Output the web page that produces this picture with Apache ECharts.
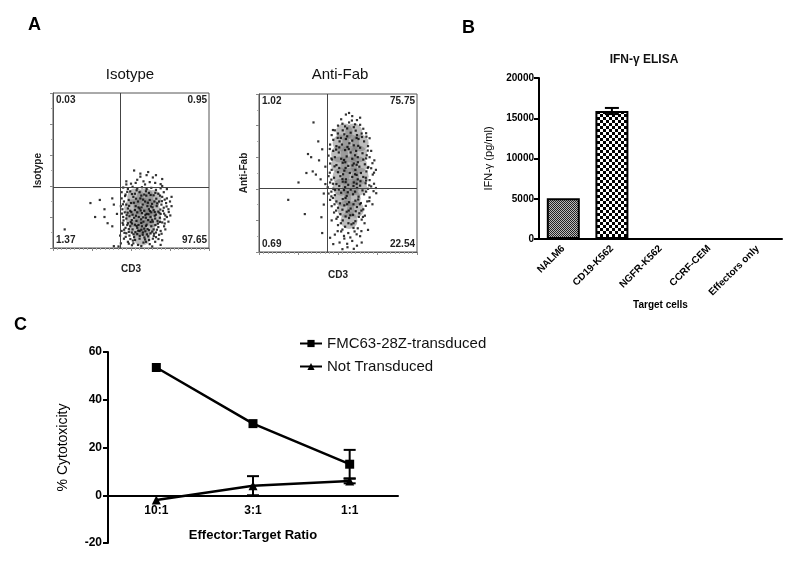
<!DOCTYPE html>
<html>
<head>
<meta charset="utf-8">
<script src="https://cdn.jsdelivr.net/npm/echarts@6/dist/echarts.min.js"></script>
<style>
  html, body { margin: 0; padding: 0; background: #fff; }
  #chart { width: 800px; height: 563px; }
</style>
</head>
<body>
<div id="chart"></div>
<script>
// ---- panel A: flow plots (channel units 0-1000) ----
const isoGate = [430, 395];
const fabGate = [430, 405];
const isoQuad = ['0.03', '0.95', '1.37', '97.65'];
const fabQuad = ['1.02', '75.75', '0.69', '22.54'];

const isoDots = [
  [520,500],[560,480],[600,470],[640,455],[660,470],[700,445],[540,440],[580,430],[620,425],[500,415],
  [655,420],[690,412],[470,410],[560,460],[610,490],
  [450,390],[480,380],[510,395],[540,385],[570,392],[600,380],[630,388],[660,375],[690,385],[710,360],
  [440,360],[465,345],[495,365],[525,350],[555,360],[585,345],[615,355],[645,340],[675,350],[700,330],
  [730,320],[750,300],[440,320],[455,300],[470,280],[485,310],[500,290],[515,330],[530,270],[545,300],
  [560,320],[575,280],[590,300],[605,270],[620,310],[635,285],[650,300],[665,270],[680,300],[695,280],
  [710,260],[725,290],[740,250],[760,270],[445,250],[460,230],[480,255],[495,240],[510,215],[525,245],
  [540,230],[555,255],[570,225],[585,240],[600,220],[615,250],[630,230],[645,245],[660,215],[675,235],
  [690,220],[705,240],[720,210],[435,270],[450,200],[470,190],[490,205],[505,180],[520,195],[535,175],
  [550,200],[565,185],[580,170],[595,195],[610,180],[625,200],[640,170],[655,190],[670,175],[685,195],
  [700,165],[715,185],[730,200],[450,150],[465,130],[480,160],[495,140],[510,120],[525,150],[540,130],
  [555,110],[570,140],[585,125],[600,150],[615,115],[630,140],[645,120],[660,100],[675,135],[690,110],
  [470,95],[490,80],[505,100],[520,70],[540,90],[555,60],[575,85],[590,55],[610,75],[625,95],
  [640,60],[660,70],[680,85],[700,50],[440,110],[455,60],[480,40],[515,30],[545,20],[580,35],
  [620,25],[655,40],[690,20],[430,80],[435,30],[462,335],[478,228],[532,318],[568,262],[598,338],
  [628,268],[662,318],[688,248],[452,178],[498,168],[548,148],[592,108],[636,182],[672,158],[712,140],
  [458,98],[512,48],[566,118],[602,88],[648,92],[486,122],[528,102],[578,198],[612,218],[652,232],
  [476,362],[506,348],[536,372],[566,338],[596,366],[626,342],[656,356],[686,338],[716,312],[448,282],
  [488,272],[518,292],[548,262],[578,312],[608,292],[638,262],[668,288],[698,302],[728,268],[442,222],
  [472,212],[502,232],[532,208],[562,242],[592,212],[622,238],[652,208],[682,228],[712,222],[742,232],
  [446,162],[476,148],[506,158],[536,142],[566,162],[596,142],[626,168],[656,148],[686,168],[716,158],
  [456,118],[486,104],[516,88],[546,112],[576,100],[606,122],[636,106],[666,118],[696,92],[466,72],
  [496,58],[526,52],[556,78],[586,68],[616,52],[646,78],[676,58],[506,18],[566,12],[636,10],
  [486,28],[596,40],[720,120],[740,170],[752,210],[760,330],[700,400],[730,380],[470,430],[530,420],
  [590,410]
];
const isoSparse = [
  [240,290],[300,310],[270,200],[330,200],[380,320],[390,280],[75,120],[380,140],[420,10],[390,12],
  [410,220],[330,250],[350,160]
];
const isoCore = [
  [530,330],[590,330],[640,320],[510,260],[570,270],[630,260],[520,190],[580,200],[640,190],
  [540,130],[600,130],[570,70]
];

const fabDots = [
  [550,870],[590,860],[520,840],[620,835],[570,820],[500,800],[640,805],[545,795],[600,790],[660,780],
  [480,770],[530,770],[460,740],[500,750],[540,745],[580,755],[620,740],[650,750],[680,730],[470,710],
  [510,700],[550,715],[590,705],[630,715],[665,700],[450,680],[490,670],[525,680],[560,665],[600,675],
  [640,660],[690,670],[710,640],[470,640],[505,630],[545,645],[580,630],[615,640],[655,625],[440,610],
  [480,600],[520,590],[555,605],[590,590],[625,600],[660,585],[700,600],[730,580],[450,560],[490,550],
  [530,565],[565,545],[600,560],[635,540],[670,555],[710,530],[740,520],[460,520],[500,505],[540,515],
  [575,500],[610,520],[645,500],[680,510],[720,490],[440,480],[475,470],[515,480],[550,460],[590,475],
  [625,460],[660,475],[700,455],[450,440],[490,430],[530,445],[565,425],[600,440],[640,420],[675,435],
  [710,415],[740,405],[435,410],[470,400],[505,395],[545,410],[580,395],[620,405],[655,390],[690,400],
  [725,385],[440,370],[480,360],[520,375],[555,355],[595,365],[630,350],[665,365],[700,345],[450,330],
  [490,320],[530,335],[570,315],[610,325],[645,310],[685,320],[460,290],[500,280],[540,295],[580,275],
  [620,285],[660,270],[475,250],[515,240],[555,255],[595,235],[635,245],[670,230],[490,210],[530,200],
  [570,215],[610,195],[650,205],[500,170],[545,160],[585,175],[625,150],[520,130],[565,120],[605,130],
  [480,110],[640,100],[540,85],[590,70],[510,60],[620,40],[560,30],[450,90],[600,20],[470,50],
  [462,585],[518,722],[612,768],[488,648],[572,688],[652,728],[508,532],[592,548],[682,612],[458,458],
  [532,492],[618,488],[692,538],[482,392],[562,378],[642,448],[512,308],[598,302],[676,292],[528,268],
  [612,258],[458,352],[548,225],[632,222],[566,182],[508,418],[598,418],[676,470],[546,568],[626,568],
  [468,772],[528,812],[588,832],[608,808],[558,782],[498,722],[558,732],[618,722],[678,752],[448,652],
  [508,662],[568,652],[628,672],[688,642],[458,592],[538,582],[608,612],[678,592],[718,562],[478,542],
  [548,532],[618,552],[688,532],[728,502],[448,502],[528,462],[608,492],[678,452],[728,432],[468,432],
  [548,442],[618,432],[698,422],[458,382],[538,392],[608,382],[678,382],[742,372],[468,342],[548,342],
  [628,332],[698,322],[478,302],[558,302],[638,302],[718,302],[488,262],[568,262],[648,262],[498,222],
  [578,232],[658,222],[518,182],[598,182],[668,182],[528,142],[598,152],[648,132],[538,102],[578,92],
  [618,112],[498,132],[558,52],[528,18],[650,60],[690,140],[460,200],[700,720],[640,850],[570,880]
];
const fabSparse = [
  [345,820],[375,700],[310,620],[400,650],[330,600],[380,580],[300,500],[340,510],[360,490],[390,460],
  [250,440],[420,430],[185,330],[290,240],[395,220],[400,120],[410,300],[420,540],[410,370]
];
const fabCore = [
  [540,760],[600,760],[520,690],[580,690],[640,690],[510,620],[570,620],[630,620],[510,550],[570,550],
  [630,550],[520,480],[580,480],[640,480],[520,410],[580,410],[630,410],[530,340],[590,340],[550,270],
  [610,270],[570,200]
];

// ---- panel B: IFN-gamma ELISA ----
const elisaCats = ['NALM6', 'CD19-K562', 'NGFR-K562', 'CCRF-CEM', 'Effectors only'];
const elisaVals = [5050, 15900, 60, 0, 0];
const elisaErr = [0, 380, 0, 0, 0];
const elisaTicks = [0, 5000, 10000, 15000, 20000];

// ---- panel C: cytotoxicity ----
const ratioCats = ['10:1', '3:1', '1:1'];
const fmcVals = [53.5, 30, 13];
const fmcErr = [0, 0, 6];
const notVals = [-2, 4, 6];
const notErr = [0, 4, 1];
const cytoTicks = [-20, 0, 20, 40, 60];

function checker(cell, dark, light) {
  const c = document.createElement('canvas');
  c.width = c.height = cell * 2;
  const ctx = c.getContext('2d');
  ctx.fillStyle = light;
  ctx.fillRect(0, 0, cell * 2, cell * 2);
  ctx.fillStyle = dark;
  ctx.fillRect(0, 0, cell, cell);
  ctx.fillRect(cell, cell, cell, cell);
  return c;
}
const finePat = { image: checker(1, '#222', '#bbb'), repeat: 'repeat' };
const coarsePat = { image: checker(3, '#000', '#fff'), repeat: 'repeat' };

const FONT = '"Liberation Sans", Arial, sans-serif';
const grids = [
  { left: 53, top: 93, width: 156, height: 155 },
  { left: 259, top: 94, width: 158, height: 158 },
  { left: 539, top: 78, width: 243, height: 161 },
  { left: 108, top: 352, width: 290, height: 191 }
];
const cytoZeroOffset = -grids[3].height * (0 - cytoTicks[0]) / (cytoTicks[cytoTicks.length - 1] - cytoTicks[0]);

function flowX(i, gap) {
  return {
    gridIndex: i, type: 'value', min: 0, max: 1000, interval: 250,
    name: 'CD3', nameLocation: 'middle', nameGap: gap,
    nameTextStyle: { fontFamily: FONT, fontWeight: 'bold', fontSize: 10, color: '#222' },
    axisLine: { lineStyle: { color: '#555' } },
    axisTick: { length: 3, lineStyle: { color: '#888' } },
    minorTick: { show: true, splitNumber: 9, length: 2, lineStyle: { color: '#aaa' } },
    axisLabel: { show: false }, splitLine: { show: false }
  };
}
function flowY(i, name) {
  return {
    gridIndex: i, type: 'value', min: 0, max: 1000, interval: 200,
    name: name, nameLocation: 'middle', nameGap: 10,
    nameTextStyle: { fontFamily: FONT, fontWeight: 'bold', fontSize: 10, color: '#222' },
    axisLine: { lineStyle: { color: '#555' } },
    axisTick: { length: 3, lineStyle: { color: '#888' } },
    minorTick: { show: true, splitNumber: 2, length: 2, lineStyle: { color: '#aaa' } },
    axisLabel: { show: false }, splitLine: { show: false }
  };
}
function flowSeries(i, dots, sparse, core, gate) {
  return [
    {
      type: 'scatter', xAxisIndex: i, yAxisIndex: i, data: core, symbolSize: 17,
      itemStyle: { color: '#7a7a7a', opacity: 0.5 }, silent: true, z: 1
    },
    {
      type: 'scatter', xAxisIndex: i, yAxisIndex: i, data: dots.concat(sparse), symbol: 'rect', symbolSize: 2.2,
      itemStyle: { color: '#000' }, silent: true, z: 2,
      markLine: {
        silent: true, symbol: 'none', label: { show: false },
        lineStyle: { color: '#444', width: 1, type: 'solid' },
        data: [{ xAxis: gate[0] }, { yAxis: gate[1] }]
      }
    }
  ];
}
function quadText(g, labels) {
  const st = { fontFamily: FONT, fontWeight: 'bold', fontSize: 10, fill: '#222' };
  const r = g.left + g.width, b = g.top + g.height;
  return [
    { type: 'text', left: g.left + 3, top: g.top + 2, style: Object.assign({ text: labels[0] }, st) },
    { type: 'text', right: 800 - r + 2, top: g.top + 2, style: Object.assign({ text: labels[1] }, st) },
    { type: 'text', left: g.left + 3, top: b - 13, style: Object.assign({ text: labels[2] }, st) },
    { type: 'text', right: 800 - r + 2, top: b - 13, style: Object.assign({ text: labels[3] }, st) }
  ];
}

function errorBars(xi, yi, vals, errs, capW) {
  return {
    type: 'custom', xAxisIndex: xi, yAxisIndex: yi, silent: true, z: 5,
    data: vals.map((v, k) => [k, v - errs[k], v + errs[k]]),
    renderItem: function (params, api) {
      const lo = api.coord([api.value(0), api.value(1)]);
      const hi = api.coord([api.value(0), api.value(2)]);
      if (hi[1] === lo[1]) return null;
      const st = { stroke: '#000', lineWidth: 2 };
      return {
        type: 'group', children: [
          { type: 'line', shape: { x1: hi[0], y1: hi[1], x2: lo[0], y2: lo[1] }, style: st },
          { type: 'line', shape: { x1: hi[0] - capW, y1: hi[1], x2: hi[0] + capW, y2: hi[1] }, style: st },
          { type: 'line', shape: { x1: lo[0] - capW, y1: lo[1], x2: lo[0] + capW, y2: lo[1] }, style: st }
        ]
      };
    }
  };
}

const chart = echarts.init(document.getElementById('chart'), null, { renderer: 'canvas' });
const boldAxis = { fontFamily: FONT, fontWeight: 'bold', color: '#000' };

chart.setOption({
  backgroundColor: '#fff',
  animation: false,
  textStyle: { fontFamily: FONT },
  title: [
    { text: 'Isotype', left: 125, top: 62, textAlign: 'center', textStyle: { fontFamily: FONT, fontSize: 15, fontWeight: 'normal', color: '#111' } },
    { text: 'Anti-Fab', left: 335, top: 62, textAlign: 'center', textStyle: { fontFamily: FONT, fontSize: 15, fontWeight: 'normal', color: '#111' } },
    { text: 'IFN-\u03b3 ELISA', left: 639, top: 49, textAlign: 'center', textStyle: { fontFamily: FONT, fontSize: 12, fontWeight: 'bold', color: '#111' } }
  ],
  grid: grids.map((g, i) => Object.assign({ show: i < 2, borderColor: '#555', borderWidth: 1, outerBoundsMode: 'none' }, g)),
  legend: {
    left: 294, top: 331, orient: 'vertical', itemGap: 8, itemWidth: 22, itemHeight: 9,
    textStyle: { fontFamily: FONT, fontSize: 15, color: '#111' },
    data: ['FMC63-28Z-transduced', 'Not Transduced']
  },
  xAxis: [
    flowX(0, 16),
    flowX(1, 18),
    {
      gridIndex: 2, type: 'category', data: elisaCats,
      name: 'Target cells', nameLocation: 'middle', nameGap: 55,
      nameTextStyle: Object.assign({ fontSize: 10 }, boldAxis),
      axisLine: { lineStyle: { color: '#000', width: 2 } },
      axisTick: { alignWithLabel: true, length: 5, lineStyle: { color: '#000', width: 2 } },
      axisLabel: Object.assign({ rotate: 45, fontSize: 10, margin: 8, interval: 0 }, boldAxis)
    },
    {
      gridIndex: 3, type: 'category', data: ratioCats, position: 'bottom',
      axisLine: { onZero: true, lineStyle: { color: '#000', width: 2 } },
      axisTick: { show: false },
      axisLabel: { show: false }
    },
    {
      gridIndex: 3, type: 'category', data: ratioCats, position: 'bottom', offset: cytoZeroOffset,
      name: 'Effector:Target Ratio', nameLocation: 'middle', nameGap: 34,
      nameTextStyle: Object.assign({ fontSize: 13 }, boldAxis),
      axisLine: { show: false, onZero: false },
      axisTick: { show: false },
      axisLabel: Object.assign({ fontSize: 12, margin: 9 }, boldAxis)
    }
  ],
  yAxis: [
    flowY(0, 'Isotype'),
    flowY(1, 'Anti-Fab'),
    {
      gridIndex: 2, type: 'value', min: elisaTicks[0], max: elisaTicks[elisaTicks.length - 1], interval: 5000,
      name: 'IFN-\u03b3 (pg/ml)', nameLocation: 'middle', nameGap: 45,
      nameTextStyle: { fontFamily: FONT, fontSize: 11, color: '#000' },
      axisLine: { show: true, lineStyle: { color: '#000', width: 2 } },
      axisTick: { show: true, length: 5, lineStyle: { color: '#000', width: 2 } },
      axisLabel: Object.assign({ fontSize: 10, margin: 5, formatter: v => String(v) }, boldAxis),
      splitLine: { show: false }
    },
    {
      gridIndex: 3, type: 'value', min: cytoTicks[0], max: cytoTicks[cytoTicks.length - 1], interval: 20,
      name: '% Cytotoxicity', nameLocation: 'middle', nameGap: 38,
      nameTextStyle: { fontFamily: FONT, fontSize: 14, color: '#000' },
      axisLine: { show: true, onZero: false, lineStyle: { color: '#000', width: 2 } },
      axisTick: { show: true, length: 5, lineStyle: { color: '#000', width: 2 } },
      axisLabel: Object.assign({ fontSize: 12, margin: 6 }, boldAxis),
      splitLine: { show: false }
    }
  ],
  graphic: [
    { type: 'text', left: 28, top: 16, style: { text: 'A', fontFamily: FONT, fontWeight: 'bold', fontSize: 18, fill: '#000' } },
    { type: 'text', left: 462, top: 19, style: { text: 'B', fontFamily: FONT, fontWeight: 'bold', fontSize: 18, fill: '#000' } },
    { type: 'text', left: 14, top: 316, style: { text: 'C', fontFamily: FONT, fontWeight: 'bold', fontSize: 18, fill: '#000' } }
  ].concat(quadText(grids[0], isoQuad), quadText(grids[1], fabQuad)),
  series: [].concat(
    flowSeries(0, isoDots, isoSparse, isoCore, isoGate),
    flowSeries(1, fabDots, fabSparse, fabCore, fabGate),
    [
      {
        type: 'bar', xAxisIndex: 2, yAxisIndex: 2, barWidth: 33,
        data: elisaVals.map((v, k) => ({
          value: v,
          itemStyle: { color: k === 1 ? coarsePat : finePat, borderColor: '#000', borderWidth: v > 100 ? 2 : 0.5 }
        }))
      },
      errorBars(2, 2, elisaVals, elisaErr, 7),
      {
        name: 'FMC63-28Z-transduced', type: 'line', xAxisIndex: 3, yAxisIndex: 3, data: fmcVals,
        symbol: 'rect', symbolSize: 9, z: 4,
        lineStyle: { color: '#000', width: 2.5 }, itemStyle: { color: '#000' }
      },
      {
        name: 'Not Transduced', type: 'line', xAxisIndex: 3, yAxisIndex: 3, data: notVals,
        symbol: 'triangle', symbolSize: 9, z: 4,
        lineStyle: { color: '#000', width: 2.5 }, itemStyle: { color: '#000' }
      },
      errorBars(3, 3, fmcVals, fmcErr, 6),
      errorBars(3, 3, notVals, notErr, 6)
    ]
  )
});
</script>
</body>
</html>
